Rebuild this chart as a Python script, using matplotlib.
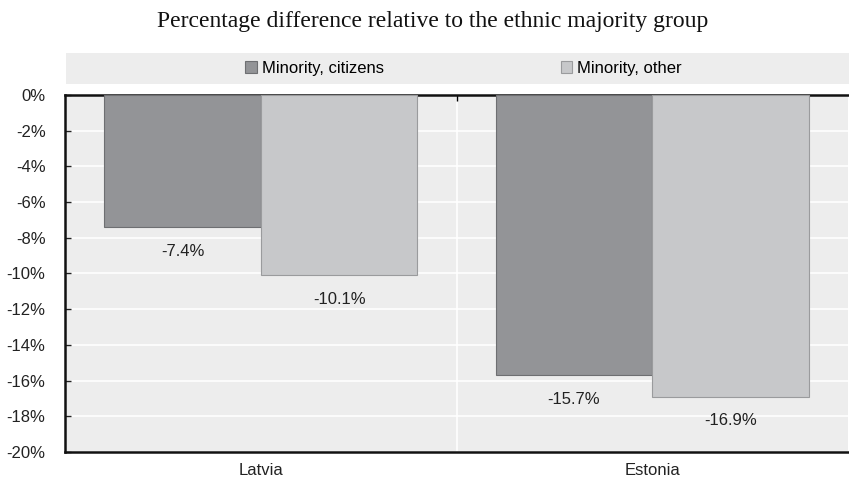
import numpy as np
import matplotlib.pyplot as plt
from matplotlib.patches import Rectangle
from matplotlib.ticker import FixedLocator, PercentFormatter
from matplotlib import font_manager

countries = ["Latvia", "Estonia"]
series_names = ["Minority, citizens", "Minority, other"]
citizens = [-7.4, -15.7]
other = [-10.1, -16.9]
y_ticks = list(range(0, -21, -2))

colors = ["#939497", "#c7c8ca"]
edges = ["#6e6f72", "#9a9b9d"]

available = {f.name for f in font_manager.fontManager.ttflist}
sans = [f for f in ["Liberation Sans Narrow", "Liberation Sans", "DejaVu Sans"] if f in available]
plt.rcParams["font.family"] = sans
plt.rcParams["axes.unicode_minus"] = False

fig = plt.figure(figsize=(8.49, 4.79), dpi=100)
ax = fig.add_axes([0.0766, 0.0564, 0.9222, 0.7453])
ax.set_facecolor("#ededed")

x = np.arange(len(countries))
width = 0.4
values = [citizens, other]
for i, (name, vals) in enumerate(zip(series_names, values)):
    pos = x + (i - 0.5) * width
    bars = ax.bar(pos, vals, width, color=colors[i], edgecolor=edges[i],
                  linewidth=0.8, label=name, zorder=3)
    for b, v in zip(bars, vals):
        ax.annotate(f"{v:.1f}%", (b.get_x() + b.get_width() / 2, v),
                    xytext=(0, -12), textcoords="offset points",
                    ha="center", va="top", fontsize=12, color="#222222")

ax.set_xlim(-0.5, 1.5)
ax.set_ylim(-20, 0)
ax.set_yticks(y_ticks)
ax.yaxis.set_major_formatter(PercentFormatter(decimals=0))
ax.set_xticks(x)
ax.set_xticklabels(countries)
ax.xaxis.set_minor_locator(FixedLocator([0.5]))

ax.grid(True, axis="y", color="white", linewidth=1.2, zorder=0)
ax.grid(True, axis="x", which="minor", color="white", linewidth=1.2, zorder=0)
ax.set_axisbelow(True)

ax.tick_params(axis="y", direction="in", length=4, width=1, pad=14,
               labelsize=12, colors="#222222")
ax.tick_params(axis="x", which="major", length=0, pad=8, labelsize=12,
               colors="#222222")
ax.tick_params(axis="x", which="minor", direction="in", length=4, width=1,
               top=True, bottom=False)

for side in ["left", "top", "bottom"]:
    ax.spines[side].set_linewidth(1.8)
    ax.spines[side].set_color("#111111")
ax.spines["right"].set_visible(False)

# legend band above the plot
fig.patches.append(Rectangle((0.0777, 0.8246), 0.9223, 0.0647,
                             transform=fig.transFigure, facecolor="#ededed",
                             edgecolor="none", zorder=0))
handles, labels = ax.get_legend_handles_labels()
fig.legend(handles, labels, loc="center", bbox_to_anchor=(0.546, 0.858),
           ncol=2, frameon=False, fontsize=12, handlelength=0.7,
           handleheight=0.7, handletextpad=0.3, columnspacing=10.6,
           borderaxespad=0)

fig.text(0.509, 0.955, "Percentage difference relative to the ethnic majority group",
         ha="center", va="center", fontsize=17,
         family=["Liberation Serif", "DejaVu Serif"], color="#111111")

fig.savefig("out.png", dpi=100)
